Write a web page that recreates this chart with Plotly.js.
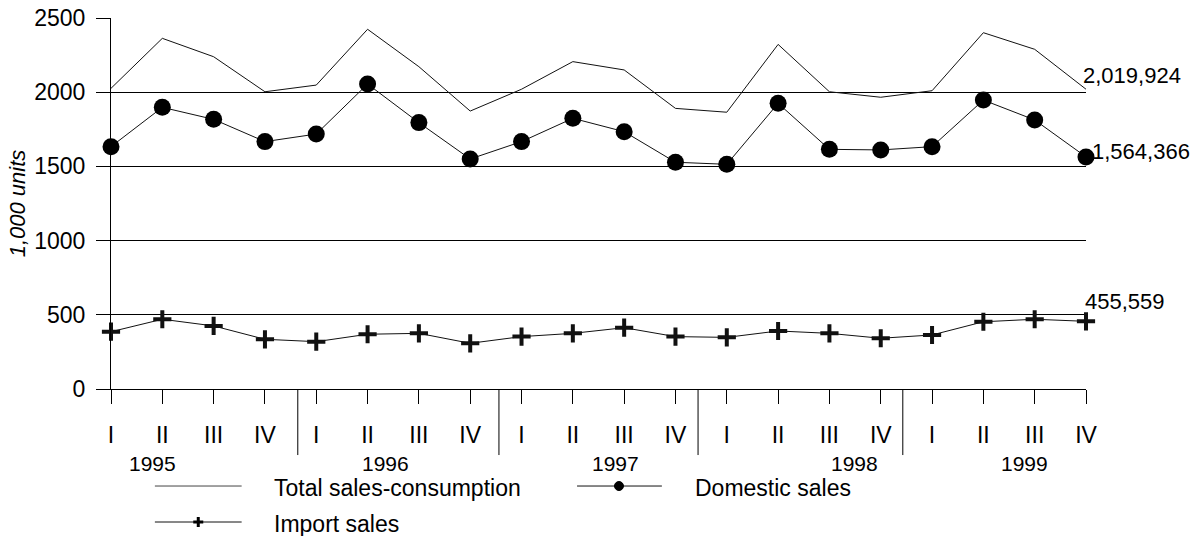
<!DOCTYPE html>
<html>
<head>
<meta charset="utf-8">
<script src="https://cdn.plot.ly/plotly-3.0.1.min.js"></script>
<style>
  body { margin: 0; background: #fff; }
  #chart { width: 1196px; height: 536px; }
</style>
</head>
<body>
<div id="chart"></div>
<script>
// quarters 1995-1999, values in 1,000 units
let quarters = ["I","II","III","IV","I","II","III","IV","I","II","III","IV","I","II","III","IV","I","II","III","IV"]
let years = ["1995","1996","1997","1998","1999"]
let total_sales = [2026, 2363, 2239, 2003, 2048, 2424, 2172, 1873, 2020, 2206, 2150, 1891, 1865, 2322, 2003, 1966, 2010, 2401, 2289, 2020]
let domestic_sales = [1633, 1898, 1817, 1667, 1718, 2055, 1795, 1550, 1667, 1824, 1734, 1528, 1514, 1925, 1615, 1611, 1633, 1947, 1813, 1564]
let import_sales = [386, 470, 425, 335, 319, 369, 375, 308, 353, 375, 413, 353, 348, 391, 375, 342, 364, 453, 470, 456]
let end_labels = ["2,019,924", "1,564,366", "455,559"]

let xs = []
for (let i = 0; i < quarters.length; i++) {
  xs.push(i);
}
let last = xs.length - 1;

let font = "Arial, 'Liberation Sans', sans-serif";

let trace1 = {
  x: xs, y: total_sales,
  name: "Total sales-consumption",
  type: "scatter", mode: "lines",
  line: {color: "#111", width: 1},
  cliponaxis: false
};
let trace2 = {
  x: xs, y: domestic_sales,
  name: "Domestic sales",
  type: "scatter", mode: "lines+markers",
  line: {color: "#111", width: 1},
  marker: {symbol: "circle", size: 17, color: "#000"},
  cliponaxis: false
};
let trace3 = {
  x: xs, y: import_sales,
  name: "Import sales",
  type: "scatter", mode: "lines+markers",
  line: {color: "#111", width: 1},
  marker: {symbol: "cross-thin-open", size: 13, line: {color: "#000", width: 4}},
  cliponaxis: false
};

// year separators (they sit a bit off the midpoints in the original)
let shapes = [];
let sepPos = [3.64, 7.56, 11.44, 15.43];
for (let k = 0; k < sepPos.length; k++) {
  shapes.push({type: "line", xref: "x", yref: "paper", x0: sepPos[k], x1: sepPos[k], y0: 0, y1: -0.178,
    line: {color: "#000", width: 1}});
}

// hand-drawn legend below the axis
let legRow1 = -0.2615, legRow2 = -0.3585;
shapes.push({type: "line", xref: "paper", yref: "paper", x0: 0.045, x1: 0.134, y0: legRow1, y1: legRow1,
  line: {color: "#444", width: 1}});
shapes.push({type: "line", xref: "paper", yref: "paper", x0: 0.478, x1: 0.565, y0: legRow1, y1: legRow1,
  line: {color: "#111", width: 1}});
shapes.push({type: "circle", xref: "paper", yref: "paper", xsizemode: "pixel", ysizemode: "pixel",
  xanchor: 0.521, yanchor: legRow1, x0: -4.5, x1: 4.5, y0: -4.5, y1: 4.5,
  fillcolor: "#000", line: {color: "#000", width: 1}});
shapes.push({type: "line", xref: "paper", yref: "paper", x0: 0.045, x1: 0.134, y0: legRow2, y1: legRow2,
  line: {color: "#111", width: 1}});
shapes.push({type: "line", xref: "paper", yref: "paper", xsizemode: "pixel", ysizemode: "pixel",
  xanchor: 0.0895, yanchor: legRow2, x0: -5, x1: 5, y0: 0, y1: 0, line: {color: "#000", width: 3}});
shapes.push({type: "line", xref: "paper", yref: "paper", xsizemode: "pixel", ysizemode: "pixel",
  xanchor: 0.0895, yanchor: legRow2, x0: 0, x1: 0, y0: -5, y1: 5, line: {color: "#000", width: 3}});

let yearPos = [0.8, 5.34, 9.84, 14.48, 17.81];
let annotations = [];
for (let k = 0; k < years.length; k++) {
  annotations.push({text: years[k], xref: "x", yref: "paper", x: yearPos[k], y: -0.1995,
    showarrow: false, xanchor: "center", yanchor: "middle", font: {size: 21, color: "#000"}});
}
annotations.push({text: "Total sales-consumption", xref: "paper", yref: "paper", x: 0.1651, y: -0.2668,
  showarrow: false, xanchor: "left", yanchor: "middle", font: {size: 23, color: "#000"}});
annotations.push({text: "Domestic sales", xref: "paper", yref: "paper", x: 0.597, y: -0.2668,
  showarrow: false, xanchor: "left", yanchor: "middle", font: {size: 23, color: "#000"}});
annotations.push({text: "Import sales", xref: "paper", yref: "paper", x: 0.1651, y: -0.3635,
  showarrow: false, xanchor: "left", yanchor: "middle", font: {size: 23, color: "#000"}});
// end-of-series values
annotations.push({text: end_labels[0], x: last, y: total_sales[last], xanchor: "left", yanchor: "middle",
  xshift: -5, yshift: 14, showarrow: false, font: {size: 22, color: "#000"}});
annotations.push({text: end_labels[1], x: last, y: domestic_sales[last], xanchor: "left", yanchor: "middle",
  xshift: 4, yshift: 5, showarrow: false, font: {size: 22, color: "#000"}});
annotations.push({text: end_labels[2], x: last, y: import_sales[last], xanchor: "left", yanchor: "middle",
  xshift: -3, yshift: 20, showarrow: false, font: {size: 22, color: "#000"}});

let layout = {
  width: 1196, height: 536,
  margin: {l: 111, r: 110, t: 18, b: 147, pad: 0},
  paper_bgcolor: "#fff", plot_bgcolor: "#fff",
  font: {family: font, color: "#000"},
  showlegend: false,
  xaxis: {
    range: [0, last], tickmode: "array", tickvals: xs, ticktext: quarters,
    ticks: "outside", ticklen: 14, tickwidth: 1, tickcolor: "#000",
    ticklabelstandoff: 11,
    showgrid: false, zeroline: false, showline: true, linecolor: "#000", linewidth: 1,
    tickfont: {size: 23}, fixedrange: true
  },
  yaxis: {
    range: [0, 2500], tickvals: [0, 500, 1000, 1500, 2000, 2500],
    ticks: "outside", ticklen: 14, tickwidth: 1, tickcolor: "#000",
    ticklabelstandoff: 6,
    showgrid: true, gridcolor: "#000", gridwidth: 1,
    zeroline: false, showline: true, linecolor: "#000", linewidth: 1,
    tickfont: {size: 23},
    title: {text: "<i>1,000 units</i>", font: {size: 22}, standoff: 2},
    automargin: false, fixedrange: true
  },
  shapes: shapes,
  annotations: annotations
};

Plotly.newPlot("chart", [trace1, trace2, trace3], layout, {displayModeBar: false, staticPlot: true});
</script>
</body>
</html>
